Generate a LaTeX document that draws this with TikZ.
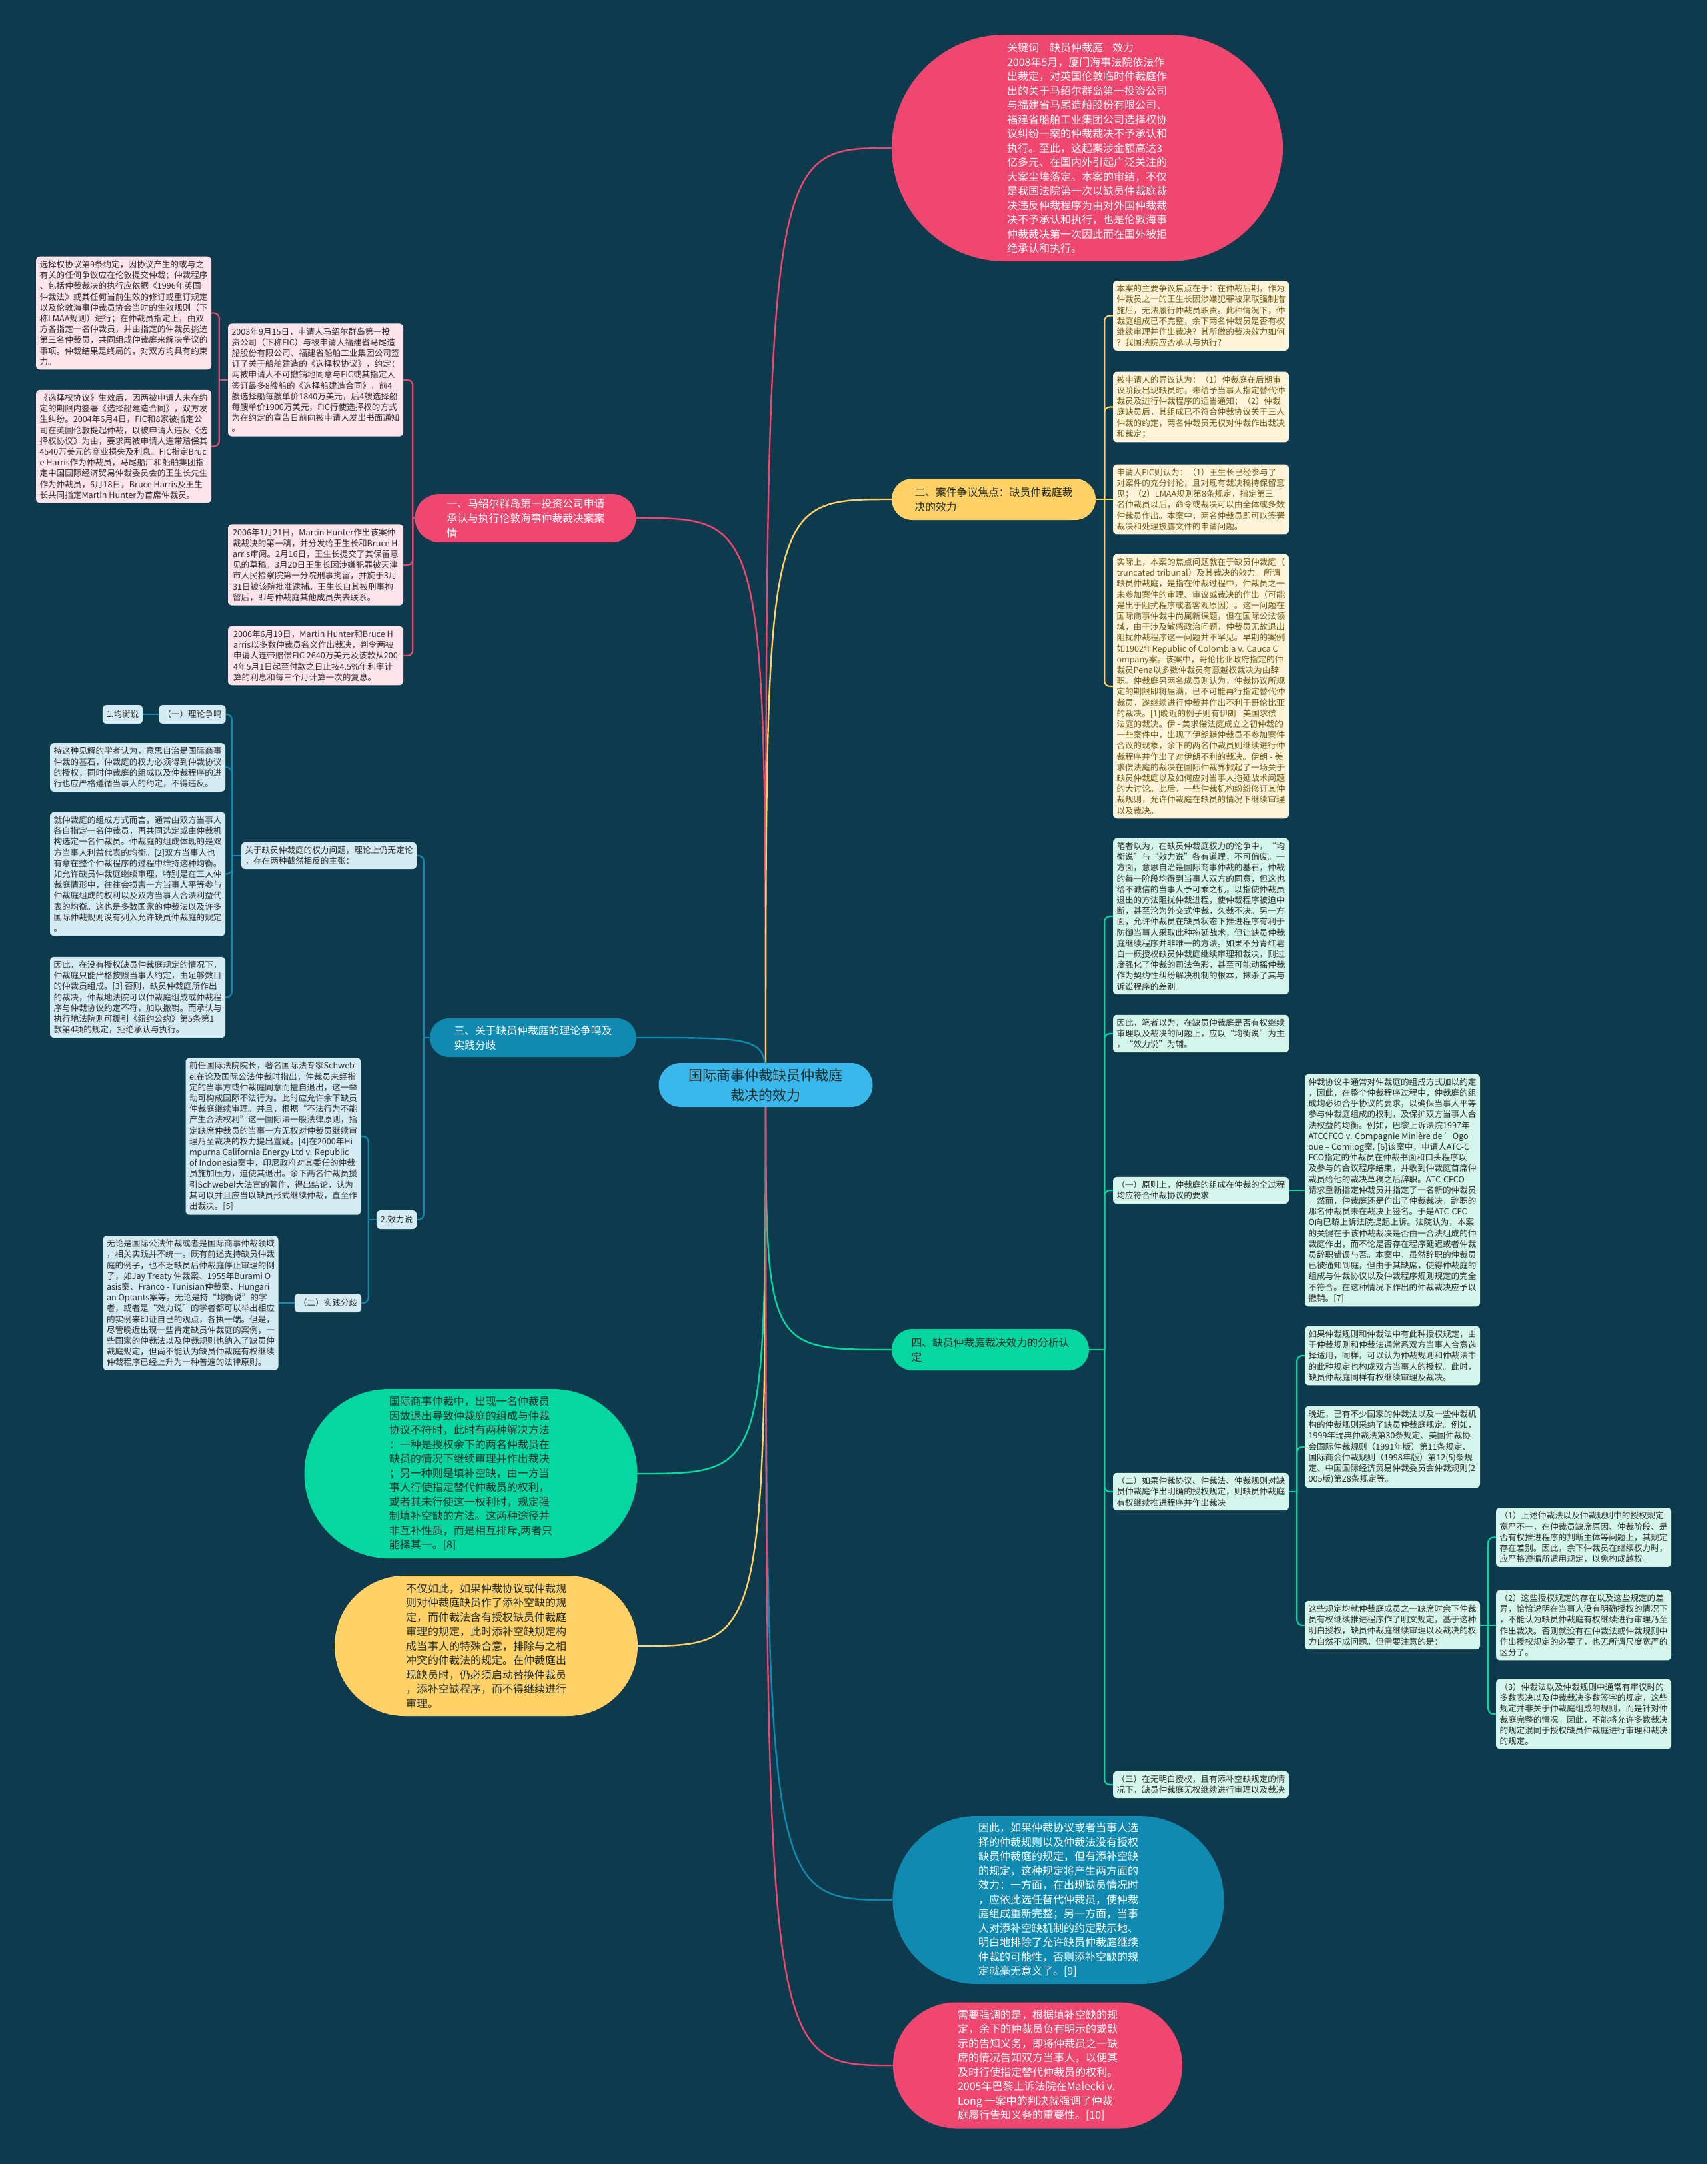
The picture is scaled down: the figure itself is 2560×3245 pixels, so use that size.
\documentclass[tikz,border=0pt]{standalone}
\usepackage{fontspec}
\setmainfont{Noto Sans CJK SC}
\usetikzlibrary{shapes.misc,calc}
\definecolor{bgc}{HTML}{0D3A4D}
\definecolor{cpink}{HTML}{EF476F}
\definecolor{cyellow}{HTML}{FFD166}
\definecolor{cblue}{HTML}{118AB2}
\definecolor{cgreen}{HTML}{06D6A0}
\definecolor{ccenter}{HTML}{3AB8EB}
\definecolor{pinkbox}{HTML}{FDE3EA}
\definecolor{yelbox}{HTML}{FFF4D9}
\definecolor{bluebox}{HTML}{D4EBF3}
\definecolor{greenbox}{HTML}{D3F5EC}
\definecolor{txtdark}{HTML}{2D2D2D}
\definecolor{yeltxt}{HTML}{6E5A12}
\definecolor{blobdark}{HTML}{1F2D2A}
\newcommand\boxfont{\fontsize{12.6pt}{16.2pt}\selectfont}
\newcommand\pillfont{\fontsize{15.8pt}{22pt}\selectfont}
\newcommand\blobfont{\fontsize{16pt}{21.5pt}\selectfont}
\newcommand\centerfont{\fontsize{21pt}{30pt}\selectfont}
\pgfdeclarelayer{back}
\pgfdeclarelayer{bg}
\pgfsetlayers{back,bg,main}
\tikzset{
  sbox/.style={rectangle, rounded corners=6pt, align=left, inner xsep=5pt, inner ysep=6pt, minimum width=263pt, font=\boxfont, text=txtdark},
  boxp/.style={sbox, fill=pinkbox},
  boxy/.style={sbox, fill=yelbox, text=yeltxt},
  boxb/.style={sbox, fill=bluebox},
  boxg/.style={sbox, fill=greenbox},
  tag/.style={minimum width=0pt, minimum height=28pt, inner xsep=6pt, inner ysep=3pt},
  pill/.style={rounded rectangle, align=left, inner sep=2pt, font=\pillfont},
  blob/.style={rounded rectangle, align=left, inner sep=2pt, font=\blobfont},
  mainc/.style={line width=2.4pt},
  subc/.style={line width=2.2pt, rounded corners=8pt},
}
\begin{document}
\begin{tikzpicture}[x=1pt,y=1pt]
\begin{pgfonlayer}{back}
\fill[bgc] (0,0) rectangle (2560,-3245);
\end{pgfonlayer}
\useasboundingbox (0,0) rectangle (2560,-3245);

% ---------- center and main branches ----------
\node[rounded rectangle, align=center, inner sep=2pt, fill=ccenter, text=blobdark, font=\centerfont, minimum width=325pt, minimum height=66pt] (C) at (1148,-1627) {国际商事仲裁缺员仲裁庭\\裁决的效力};

\node[blob, fill=cpink, text=white, minimum width=590pt, minimum height=340pt] (T1) at (1630,-222) {关键词\hspace{16pt}缺员仲裁庭\hspace{14pt}效力\\2008年5月，厦门海事法院依法作\\出裁定，对英国伦敦临时仲裁庭作\\出的关于马绍尔群岛第一投资公司\\与福建省马尾造船股份有限公司、\\福建省船舶工业集团公司选择权协\\议纠纷一案的仲裁裁决不予承认和\\执行。至此，这起案涉金额高达3\\亿多元、在国内外引起广泛关注的\\大案尘埃落定。本案的审结，不仅\\是我国法院第一次以缺员仲裁庭裁\\决违反仲裁程序为由对外国仲裁裁\\决不予承认和执行，也是伦敦海事\\仲裁裁决第一次因此而在国外被拒\\绝承认和执行。};

\node[pill, fill=cpink, text=white, minimum width=335pt, minimum height=72pt] (P1) at (788,-777) {一、马绍尔群岛第一投资公司申请\\承认与执行伦敦海事仲裁裁决案案\\情};
\node[pill, fill=cyellow, text=blobdark, minimum width=310pt, minimum height=62pt] (P2) at (1490,-749) {二、案件争议焦点：缺员仲裁庭裁\\决的效力};
\node[pill, fill=cblue, text=white, minimum width=314pt, minimum height=58pt] (P3) at (799,-1556) {三、关于缺员仲裁庭的理论争鸣及\\实践分歧};
\node[pill, fill=cgreen, text=blobdark, minimum width=300pt, minimum height=62pt] (P4) at (1485,-2024) {四、缺员仲裁庭裁决效力的分析认\\定};

\node[blob, fill=cgreen, text=blobdark, minimum width=503pt, minimum height=254pt] (G) at (706,-2210) {国际商事仲裁中，出现一名仲裁员\\因故退出导致仲裁庭的组成与仲裁\\协议不符时，此时有两种解决方法\\：一种是授权余下的两名仲裁员在\\缺员的情况下继续审理并作出裁决\\；另一种则是填补空缺，由一方当\\事人行使指定替代仲裁员的权利，\\或者其未行使这一权利时，规定强\\制填补空缺的方法。这两种途径并\\非互补性质，而是相互排斥,两者只\\能择其一。[8]};
\node[blob, fill=cyellow, text=blobdark, minimum width=458pt, minimum height=210pt] (Y) at (729,-2468) {不仅如此，如果仲裁协议或仲裁规\\则对仲裁庭缺员作了添补空缺的规\\定，而仲裁法含有授权缺员仲裁庭\\审理的规定，此时添补空缺规定构\\成当事人的特殊合意，排除与之相\\冲突的仲裁法的规定。在仲裁庭出\\现缺员时，仍必须启动替换仲裁员\\，添补空缺程序，而不得继续进行\\审理。};
\node[blob, fill=cblue, text=white, minimum width=501pt, minimum height=252pt] (BL) at (1587,-2849) {因此，如果仲裁协议或者当事人选\\择的仲裁规则以及仲裁法没有授权\\缺员仲裁庭的规定，但有添补空缺\\的规定，这种规定将产生两方面的\\效力：一方面，在出现缺员情况时\\，应依此选任替代仲裁员，使仲裁\\庭组成重新完整；另一方面，当事\\人对添补空缺机制的约定默示地、\\明白地排除了允许缺员仲裁庭继续\\仲裁的可能性，否则添补空缺的规\\定就毫无意义了。[9]};
\node[blob, fill=cpink, text=white, minimum width=438pt, minimum height=189pt] (PB) at (1556,-3097) {需要强调的是，根据填补空缺的规\\定，余下的仲裁员负有明示的或默\\示的告知义务，即将仲裁员之一缺\\席的情况告知双方当事人，以便其\\及时行使指定替代仲裁员的权利。\\2005年巴黎上诉法院在Malecki v.\\Long 一案中的判决就强调了仲裁\\庭履行告知义务的重要性。[10]};

% ---------- branch one ----------
\node[boxp] (A1) at (473.5,-570) {2003年9月15日，申请人马绍尔群岛第一投\\资公司（下称FIC）与被申请人福建省马尾造\\船股份有限公司、福建省船舶工业集团公司签\\订了关于船舶建造的《选择权协议》，约定：\\两被申请人不可撤销地同意与FIC或其指定人\\签订最多8艘船的《选择船建造合同》，前4\\艘选择船每艘单价1840万美元，后4艘选择船\\每艘单价1900万美元，FIC行使选择权的方式\\为在约定的宣告日前向被申请人发出书面通知\\。};
\node[boxp] (A1a) at (185.5,-469.5) {选择权协议第9条约定，因协议产生的或与之\\有关的任何争议应在伦敦提交仲裁；仲裁程序\\、包括仲裁裁决的执行应依据《1996年英国\\仲裁法》或其任何当前生效的修订或重订规定\\以及伦敦海事仲裁员协会当时的生效规则（下\\称LMAA规则）进行；在仲裁员指定上，由双\\方各指定一名仲裁员，并由指定的仲裁员挑选\\第三名仲裁员，共同组成仲裁庭来解决争议的\\事项。仲裁结果是终局的，对双方均具有约束\\力。};
\node[boxp] (A1b) at (185.5,-669.5) {《选择权协议》生效后，因两被申请人未在约\\定的期限内签署《选择船建造合同》，双方发\\生纠纷。2004年6月4日，FIC和8家被指定公\\司在英国伦敦提起仲裁，以被申请人违反《选\\择权协议》为由，要求两被申请人连带赔偿其\\4540万美元的商业损失及利息。FIC指定Bruc\\e Harris作为仲裁员，马尾船厂和船舶集团指\\定中国国际经济贸易仲裁委员会的王生长先生\\作为仲裁员，6月18日，Bruce Harris及王生\\长共同指定Martin Hunter为首席仲裁员。};
\node[boxp] (A2) at (473.5,-847) {2006年1月21日，Martin Hunter作出该案仲\\裁裁决的第一稿，并分发给王生长和Bruce H\\arris审阅。2月16日，王生长提交了其保留意\\见的草稿。3月20日王生长因涉嫌犯罪被天津\\市人民检察院第一分院刑事拘留，并旋于3月\\31日被该院批准逮捕。王生长自其被刑事拘\\留后，即与仲裁庭其他成员失去联系。};
\node[boxp] (A3) at (473.5,-983) {2006年6月19日，Martin Hunter和Bruce H\\arris以多数仲裁员名义作出裁决，判令两被\\申请人连带赔偿FIC 2640万美元及该款从200\\4年5月1日起至付款之日止按4.5\%年利率计\\算的利息和每三个月计算一次的复息。};

% ---------- branch two ----------
\node[boxy] (B1) at (1800.5,-473.5) {本案的主要争议焦点在于：在仲裁后期，作为\\仲裁员之一的王生长因涉嫌犯罪被采取强制措\\施后，无法履行仲裁员职责。此种情况下，仲\\裁庭组成已不完整，余下两名仲裁员是否有权\\继续审理并作出裁决？其所做的裁决效力如何\\？我国法院应否承认与执行？};
\node[boxy] (B2) at (1800.5,-610.5) {被申请人的异议认为：（1）仲裁庭在后期审\\议阶段出现缺员时，未给予当事人指定替代仲\\裁员及进行仲裁程序的适当通知；（2）仲裁\\庭缺员后，其组成已不符合仲裁协议关于三人\\仲裁的约定，两名仲裁员无权对仲裁作出裁决\\和裁定；};
\node[boxy] (B3) at (1800.5,-749) {申请人FIC则认为：（1）王生长已经参与了\\对案件的充分讨论，且对现有裁决稿持保留意\\见；（2）LMAA规则第8条规定，指定第三\\名仲裁员以后，命令或裁决可以由全体或多数\\仲裁员作出。本案中，两名仲裁员即可以签署\\裁决和处理披露文件的申请问题。};
\node[boxy] (B4) at (1800.5,-1029) {实际上，本案的焦点问题就在于缺员仲裁庭（\\truncated tribunal）及其裁决的效力。所谓\\缺员仲裁庭，是指在仲裁过程中，仲裁员之一\\未参加案件的审理、审议或裁决的作出（可能\\是出于阻扰程序或者客观原因）。这一问题在\\国际商事仲裁中尚属新课题，但在国际公法领\\域，由于涉及敏感政治问题，仲裁员无故退出\\阻扰仲裁程序这一问题并不罕见。早期的案例\\如1902年Republic of Colombia v. Cauca C\\ompany案。该案中，哥伦比亚政府指定的仲\\裁员Pena以多数仲裁员有意越权裁决为由辞\\职。仲裁庭另两名成员则认为，仲裁协议所规\\定的期限即将届满，已不可能再行指定替代仲\\裁员，遂继续进行仲裁并作出不利于哥伦比亚\\的裁决。[1]晚近的例子则有伊朗 - 美国求偿\\法庭的裁决。伊 - 美求偿法庭成立之初仲裁的\\一些案件中，出现了伊朗籍仲裁员不参加案件\\合议的现象，余下的两名仲裁员则继续进行仲\\裁程序并作出了对伊朗不利的裁决。伊朗 - 美\\求偿法庭的裁决在国际仲裁界掀起了一场关于\\缺员仲裁庭以及如何应对当事人拖延战术问题\\的大讨论。此后，一些仲裁机构纷纷修订其仲\\裁规则，允许仲裁庭在缺员的情况下继续审理\\以及裁决。};

% ---------- branch three ----------
\node[boxb] (C1) at (493.5,-1283) {关于缺员仲裁庭的权力问题，理论上仍无定论\\，存在两种截然相反的主张：};
\node[boxb, tag] (Th) at (288.5,-1071) {（一）理论争鸣};
\node[boxb, tag] (Jh) at (184,-1071) {1.均衡说};
\node[boxb] (C1b) at (206.5,-1150.5) {持这种见解的学者认为，意思自治是国际商事\\仲裁的基石，仲裁庭的权力必须得到仲裁协议\\的授权，同时仲裁庭的组成以及仲裁程序的进\\行也应严格遵循当事人的约定，不得违反。};
\node[boxb] (C1c) at (206.5,-1310.5) {就仲裁庭的组成方式而言，通常由双方当事人\\各自指定一名仲裁员，再共同选定或由仲裁机\\构选定一名仲裁员。仲裁庭的组成体现的是双\\方当事人利益代表的均衡。[2]双方当事人也\\有意在整个仲裁程序的过程中维持这种均衡。\\如允许缺员仲裁庭继续审理，特别是在三人仲\\裁庭情形中，往往会损害一方当事人平等参与\\仲裁庭组成的权利以及双方当事人合法利益代\\表的均衡。这也是多数国家的仲裁法以及许多\\国际仲裁规则没有列入允许缺员仲裁庭的规定\\。};
\node[boxb] (C1d) at (206.5,-1495.5) {因此，在没有授权缺员仲裁庭规定的情况下，\\仲裁庭只能严格按照当事人约定，由足够数目\\的仲裁员组成。[3] 否则，缺员仲裁庭所作出\\的裁决，仲裁地法院可以仲裁庭组成或仲裁程\\序与仲裁协议约定不符，加以撤销。而承认与\\执行地法院则可援引《纽约公约》第5条第1\\款第4项的规定，拒绝承认与执行。};
\node[boxb, tag] (C2) at (595,-1829) {2.效力说};
\node[boxb] (C2a) at (410,-1704) {前任国际法院院长，著名国际法专家Schweb\\el在论及国际公法仲裁时指出，仲裁员未经指\\定的当事方或仲裁庭同意而擅自退出，这一举\\动可构成国际不法行为。此时应允许余下缺员\\仲裁庭继续审理。并且，根据“不法行为不能\\产生合法权利”这一国际法一般法律原则，指\\定缺席仲裁员的当事一方无权对仲裁员继续审\\理乃至裁决的权力提出置疑。[4]在2000年Hi\\mpurna California Energy Ltd v. Republic\\of Indonesia案中，印尼政府对其委任的仲裁\\员施加压力，迫使其退出。余下两名仲裁员援\\引Schwebel大法官的著作，得出结论，认为\\其可以并且应当以缺员形式继续仲裁，直至作\\出裁决。[5]};
\node[boxb, tag] (C2b) at (492,-1954) {（二）实践分歧};
\node[boxb] (C2c) at (286,-1954) {无论是国际公法仲裁或者是国际商事仲裁领域\\，相关实践并不统一。既有前述支持缺员仲裁\\庭的例子，也不乏缺员后仲裁庭停止审理的例\\子，如Jay Treaty 仲裁案、1955年Burami O\\asis案、Franco - Tunisian仲裁案、Hungari\\an Optants案等。无论是持“均衡说”的学\\者，或者是“效力说”的学者都可以举出相应\\的实例来印证自己的观点，各执一端。但是，\\尽管晚近出现一些肯定缺员仲裁庭的案例，一\\些国家的仲裁法以及仲裁规则也纳入了缺员仲\\裁庭规定，但尚不能认为缺员仲裁庭有权继续\\仲裁程序已经上升为一种普遍的法律原则。};

% ---------- branch four ----------
\node[boxg] (D0) at (1800.5,-1374) {笔者以为，在缺员仲裁庭权力的论争中，“均\\衡说”与“效力说”各有道理，不可偏废。一\\方面，意思自治是国际商事仲裁的基石，仲裁\\的每一阶段均得到当事人双方的同意，但这也\\给不诚信的当事人予可乘之机，以指使仲裁员\\退出的方法阻扰仲裁进程，使仲裁程序被迫中\\断，甚至沦为外交式仲裁，久裁不决。另一方\\面，允许仲裁员在缺员状态下推进程序有利于\\防御当事人采取此种拖延战术，但让缺员仲裁\\庭继续程序并非唯一的方法。如果不分青红皂\\白一概授权缺员仲裁庭继续审理和裁决，则过\\度强化了仲裁的司法色彩，甚至可能动摇仲裁\\作为契约性纠纷解决机制的根本，抹杀了其与\\诉讼程序的差别。};
\node[boxg] (D0b) at (1800.5,-1550) {因此，笔者以为，在缺员仲裁庭是否有权继续\\审理以及裁决的问题上，应以“均衡说”为主\\，“效力说”为辅。};
\node[boxg] (D1) at (1800.5,-1785) {（一）原则上，仲裁庭的组成在仲裁的全过程\\均应符合仲裁协议的要求};
\node[boxg] (D1a) at (2087.5,-1785) {仲裁协议中通常对仲裁庭的组成方式加以约定\\，因此，在整个仲裁程序过程中，仲裁庭的组\\成均必须合乎协议的要求，以确保当事人平等\\参与仲裁庭组成的权利，及保护双方当事人合\\法权益的均衡。例如，巴黎上诉法院1997年\\ATCCFCO v. Compagnie Minière de 'Ogo\\oue – Comilog案. [6]该案中，申请人ATC-C\\FCO指定的仲裁员在仲裁书面和口头程序以\\及参与的合议程序结束，并收到仲裁庭首席仲\\裁员给他的裁决草稿之后辞职。ATC-CFCO\\请求重新指定仲裁员并指定了一名新的仲裁员\\。然而，仲裁庭还是作出了仲裁裁决，辞职的\\那名仲裁员未在裁决上签名。于是ATC-CFC\\O向巴黎上诉法院提起上诉。法院认为，本案\\的关键在于该仲裁裁决是否由一合法组成的仲\\裁庭作出，而不论是否存在程序延迟或者仲裁\\员辞职错误与否。本案中，虽然辞职的仲裁员\\已被通知到庭，但由于其缺席，使得仲裁庭的\\组成与仲裁协议以及仲裁程序规则规定的完全\\不符合。在这种情况下作出的仲裁裁决应予以\\撤销。[7]};
\node[boxg] (D2) at (1800.5,-2237) {（二）如果仲裁协议、仲裁法、仲裁规则对缺\\员仲裁庭作出明确的授权规定，则缺员仲裁庭\\有权继续推进程序并作出裁决};
\node[boxg] (D2a) at (2087.5,-2033) {如果仲裁规则和仲裁法中有此种授权规定，由\\于仲裁规则和仲裁法通常系双方当事人合意选\\择适用，同样，可以认为仲裁规则和仲裁法中\\的此种规定也构成双方当事人的授权。此时，\\缺员仲裁庭同样有权继续审理及裁决。};
\node[boxg] (D2b) at (2087.5,-2170) {晚近，已有不少国家的仲裁法以及一些仲裁机\\构的仲裁规则采纳了缺员仲裁庭规定。例如，\\1999年瑞典仲裁法第30条规定、美国仲裁协\\会国际仲裁规则（1991年版）第11条规定、\\国际商会仲裁规则（1998年版）第12(5)条规\\定、中国国际经济贸易仲裁委员会仲裁规则(2\\005版)第28条规定等。};
\node[boxg] (D2c) at (2087.5,-2437) {这些规定均就仲裁庭成员之一缺席时余下仲裁\\员有权继续推进程序作了明文规定，基于这种\\明白授权，缺员仲裁庭继续审理以及裁决的权\\力自然不成问题。但需要注意的是：};
\node[boxg] (E1) at (2374.5,-2305.5) {（1）上述仲裁法以及仲裁规则中的授权规定\\宽严不一，在仲裁员缺席原因、仲裁阶段、是\\否有权推进程序的判断主体等问题上，其规定\\存在差别。因此，余下仲裁员在继续权力时，\\应严格遵循所适用规定，以免构成越权。};
\node[boxg] (E2) at (2374.5,-2437) {（2）这些授权规定的存在以及这些规定的差\\异，恰恰说明在当事人没有明确授权的情况下\\，不能认为缺员仲裁庭有权继续进行审理乃至\\作出裁决。否则就没有在仲裁法或仲裁规则中\\作出授权规定的必要了，也无所谓尺度宽严的\\区分了。};
\node[boxg] (E3) at (2374.5,-2570) {（3）仲裁法以及仲裁规则中通常有审议时的\\多数表决以及仲裁裁决多数签字的规定，这些\\规定并非关于仲裁庭组成的规则，而是针对仲\\裁庭完整的情况。因此，不能将允许多数裁决\\的规定混同于授权缺员仲裁庭进行审理和裁决\\的规定。};
\node[boxg] (D3) at (1800.5,-2676) {（三）在无明白授权，且有添补空缺规定的情\\况下，缺员仲裁庭无权继续进行审理以及裁决};

% ---------- connectors ----------
\begin{pgfonlayer}{bg}
\draw[mainc, cpink] (C.center) .. controls (C.center |- T1.west) .. (T1.west);
\draw[mainc, cpink] (C.center) .. controls (C.center |- P1.east) .. (P1.east);
\draw[mainc, cyellow] (C.center) .. controls (C.center |- P2.west) .. (P2.west);
\draw[mainc, cblue] (C.center) .. controls (C.center |- P3.east) .. (P3.east);
\draw[mainc, cgreen] (C.center) .. controls (C.center |- P4.west) .. (P4.west);
\draw[mainc, cgreen] (C.center) .. controls (C.center |- G.east) .. (G.east);
\draw[mainc, cyellow] (C.center) .. controls (C.center |- Y.east) .. (Y.east);
\draw[mainc, cblue] (C.center) .. controls (C.center |- BL.west) .. (BL.west);
\draw[mainc, cpink] (C.center) .. controls (C.center |- PB.west) .. (PB.west);

% branch one
\coordinate (k1) at ($(P1.west)+(-3,0)$);
\draw[subc, cpink] (P1.west) -- (k1);
\foreach \n in {A1,A2,A3} \draw[subc, cpink] (k1) |- (\n.east);
\coordinate (kA) at ($(A1.west)+(-13,0)$);
\draw[subc, cpink] (A1.west) -- (kA);
\foreach \n in {A1a,A1b} \draw[subc, cpink] (kA) |- (\n.east);

% branch two
\coordinate (k2) at ($(P2.east)+(13,0)$);
\draw[subc, cyellow] (P2.east) -- (B3.west);
\foreach \n in {B1,B2,B4} \draw[subc, cyellow] (k2) |- (\n.west);

% branch three
\coordinate (k3) at ($(P3.west)+(-8,0)$);
\draw[subc, cblue] (P3.west) -- (k3);
\foreach \n in {C1,C2} \draw[subc, cblue] (k3) |- (\n.east);
\coordinate (kC) at ($(C1.west)+(-14,0)$);
\draw[subc, cblue] (C1.west) -- (kC);
\foreach \n in {Th,C1b,C1c,C1d} \draw[subc, cblue] (kC) |- (\n.east);
\draw[subc, cblue] (Th.west) -- (Jh.east);
\coordinate (kD) at ($(C2.west)+(-12,0)$);
\draw[subc, cblue] (C2.west) -- (kD);
\foreach \n in {C2a,C2b} \draw[subc, cblue] (kD) |- (\n.east);
\draw[subc, cblue] (C2b.west) -- (C2c.east);

% branch four
\coordinate (k4) at ($(P4.east)+(23,0)$);
\draw[subc, cgreen] (P4.east) -- (k4);
\foreach \n in {D0,D0b,D1,D2,D3} \draw[subc, cgreen] (k4) |- (\n.west);
\draw[subc, cgreen] (D1.east) -- (D1a.west);
\coordinate (kE) at ($(D2.east)+(12,0)$);
\draw[subc, cgreen] (D2.east) -- (kE);
\foreach \n in {D2a,D2b,D2c} \draw[subc, cgreen] (kE) |- (\n.west);
\coordinate (kF) at ($(D2c.east)+(12,0)$);
\draw[subc, cgreen] (D2c.east) -- (E2.west);
\foreach \n in {E1,E3} \draw[subc, cgreen] (kF) |- (\n.west);
\end{pgfonlayer}
\end{tikzpicture}
\end{document}
